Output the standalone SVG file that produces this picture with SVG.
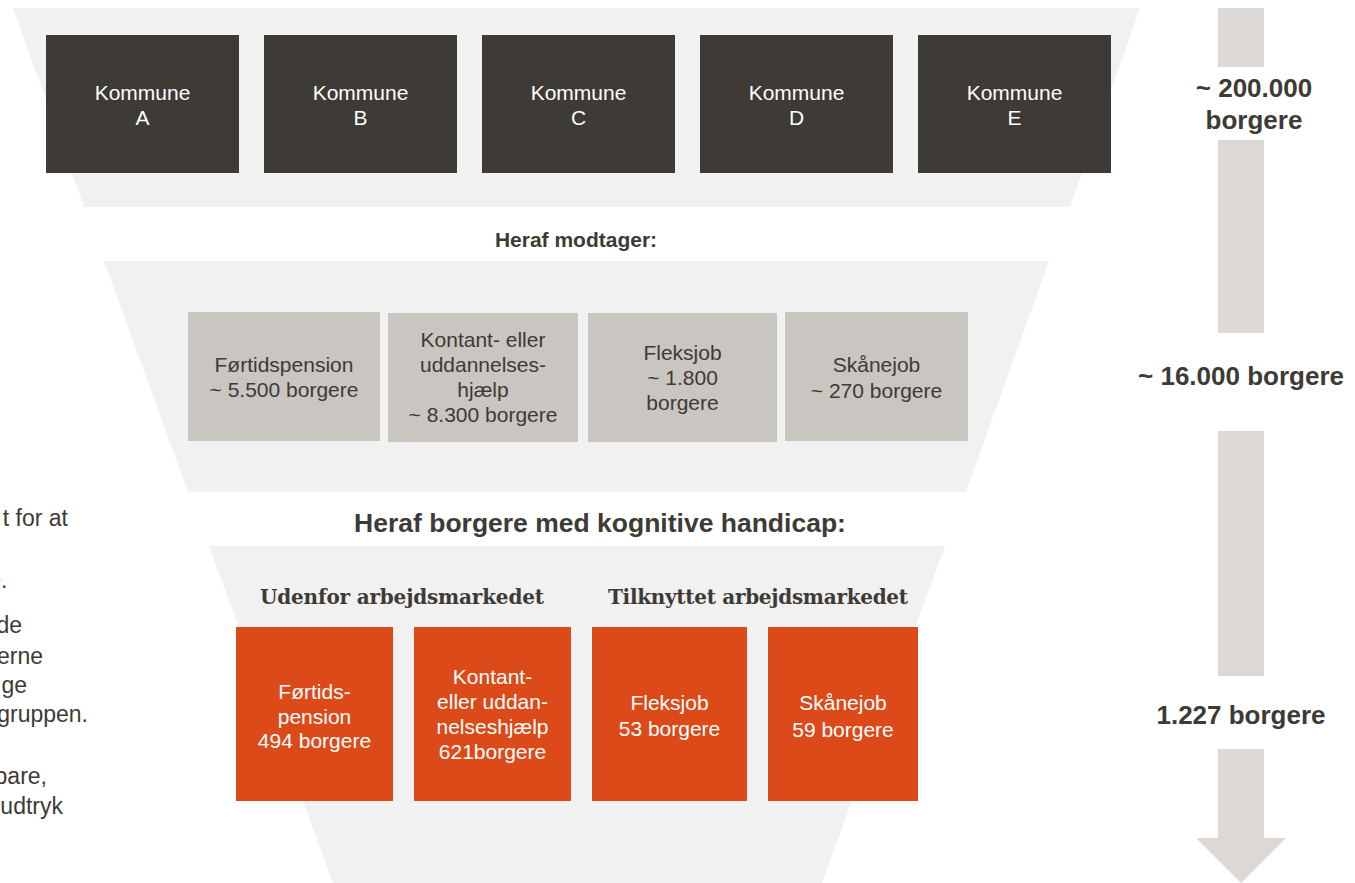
<svg xmlns="http://www.w3.org/2000/svg" width="1355" height="883" viewBox="0 0 1355 883">
<style>
.funnel{fill:#f1f1f1}
.dark{fill:#3e3a35}
.mid{fill:#c9c5c1}
.org{fill:#dc4a19}
.arr{fill:#dbd8d5}
text{font-family:"Liberation Sans",Arial,sans-serif}
.wt{fill:#ffffff;font-size:21px;text-anchor:middle}
.dt{fill:#3e3a35;font-size:21px;text-anchor:middle}
.hd{fill:#3e3a35;font-size:21px;font-weight:bold;text-anchor:middle}
.rl{fill:#3e3a35;font-size:26px;font-weight:bold;text-anchor:middle}
.sh{fill:#3e3a35;font-family:"DejaVu Serif","Liberation Serif",serif;font-size:20px;font-weight:bold;text-anchor:middle}
.lt{fill:#3e3a35;font-size:23px;text-anchor:end}
</style>
<rect width="1355" height="883" fill="#ffffff"/>
<g id="funnels">
<polygon class="funnel" points="13,8 1140,8 1070,207 84,207"/>
<polygon class="funnel" points="104,261 1049,261 966,492 188,492"/>
<polygon class="funnel" points="209,546 945,546 822,883 333,883"/>
</g>
<g id="left-text">
<text class="lt" x="68" y="526">t for at</text>
<text class="lt" x="7.5" y="588">e.</text>
<text class="lt" x="22" y="633">de</text>
<text class="lt" x="43" y="664">erne</text>
<text class="lt" x="27" y="693">ge</text>
<text class="lt" x="88" y="722">gruppen.</text>
<text class="lt" x="47" y="784">bare,</text>
<text class="lt" x="63" y="814">udtryk</text>
</g>
<g id="kommune-a"><rect class="dark" x="46" y="35" width="193" height="138"/><text class="wt" x="142.5" y="100">Kommune</text><text class="wt" x="142.5" y="125">A</text></g>
<g id="kommune-b"><rect class="dark" x="264" y="35" width="193" height="138"/><text class="wt" x="360.5" y="100">Kommune</text><text class="wt" x="360.5" y="125">B</text></g>
<g id="kommune-c"><rect class="dark" x="482" y="35" width="193" height="138"/><text class="wt" x="578.5" y="100">Kommune</text><text class="wt" x="578.5" y="125">C</text></g>
<g id="kommune-d"><rect class="dark" x="700" y="35" width="193" height="138"/><text class="wt" x="796.5" y="100">Kommune</text><text class="wt" x="796.5" y="125">D</text></g>
<g id="kommune-e"><rect class="dark" x="918" y="35" width="193" height="138"/><text class="wt" x="1014.5" y="100">Kommune</text><text class="wt" x="1014.5" y="125">E</text></g>
<g id="heading-1"><text class="hd" x="576" y="247">Heraf modtager:</text></g>
<g id="m-fortid"><rect class="mid" x="188" y="312" width="192" height="129"/><text class="dt" x="284" y="372">Førtidspension</text><text class="dt" x="284" y="397">~ 5.500 borgere</text></g>
<g id="m-kontant"><rect class="mid" x="388" y="313" width="190" height="129"/><text class="dt" x="483" y="347">Kontant- eller</text><text class="dt" x="483" y="372">uddannelses-</text><text class="dt" x="483" y="397">hjælp</text><text class="dt" x="483" y="422">~ 8.300 borgere</text></g>
<g id="m-fleks"><rect class="mid" x="588" y="313" width="189" height="129"/><text class="dt" x="682.5" y="360">Fleksjob</text><text class="dt" x="682.5" y="385">~ 1.800</text><text class="dt" x="682.5" y="410">borgere</text></g>
<g id="m-skane"><rect class="mid" x="785" y="312" width="183" height="129"/><text class="dt" x="876.5" y="372">Skånejob</text><text class="dt" x="876.5" y="398">~ 270 borgere</text></g>
<g id="heading-2"><text class="hd" x="600" y="532" style="font-size:26.5px">Heraf borgere med kognitive handicap:</text></g>
<g id="sub-1"><text class="sh" x="402" y="604" textLength="284" lengthAdjust="spacing">Udenfor arbejdsmarkedet</text></g>
<g id="sub-2"><text class="sh" x="758" y="604" textLength="300" lengthAdjust="spacing">Tilknyttet arbejdsmarkedet</text></g>
<g id="o-fortid"><rect class="org" x="236" y="627" width="157" height="174"/><text class="wt" x="314.5" y="699">Førtids-</text><text class="wt" x="314.5" y="724">pension</text><text class="wt" x="314.5" y="748">494 borgere</text></g>
<g id="o-kontant"><rect class="org" x="414" y="627" width="157" height="174"/><text class="wt" x="492.5" y="684">Kontant-</text><text class="wt" x="492.5" y="709">eller uddan-</text><text class="wt" x="492.5" y="734">nelseshjælp</text><text class="wt" x="492.5" y="759">621borgere</text></g>
<g id="o-fleks"><rect class="org" x="592" y="627" width="155" height="174"/><text class="wt" x="669.5" y="710">Fleksjob</text><text class="wt" x="669.5" y="736">53 borgere</text></g>
<g id="o-skane"><rect class="org" x="768" y="627" width="150" height="174"/><text class="wt" x="843" y="710">Skånejob</text><text class="wt" x="843" y="737">59 borgere</text></g>
<g id="connectors">
<rect class="arr" x="1218" y="8" width="46" height="59"/>
<rect class="arr" x="1218" y="140" width="46" height="193"/>
<rect class="arr" x="1218" y="431" width="46" height="245"/>
<polygon class="arr" points="1218,749 1264,749 1264,838 1286,838 1241,883 1196,838 1218,838"/>
</g>
<g id="labels">
<text class="rl" x="1254" y="97">~ 200.000</text>
<text class="rl" x="1254" y="129">borgere</text>
<text class="rl" x="1241" y="385">~ 16.000 borgere</text>
<text class="rl" x="1241" y="724">1.227 borgere</text>
</g>
</svg>
